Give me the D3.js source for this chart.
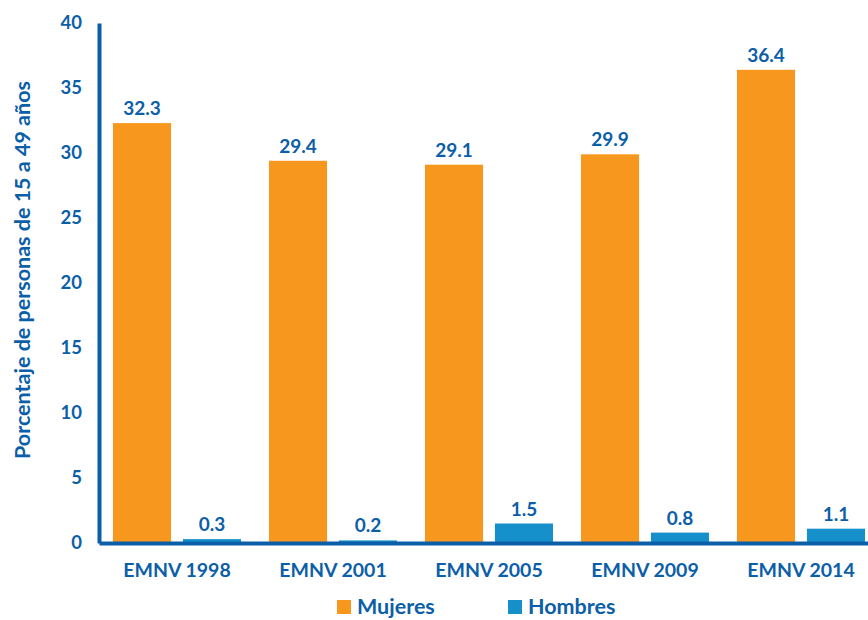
<!DOCTYPE html>
<html>
<head>
<meta charset="utf-8">
<script src="https://cdn.jsdelivr.net/npm/d3@7"></script>
<style>
  body { margin: 0; background: #fff; }
  svg { display: block; font-family: "Lato", "Open Sans", sans-serif; }
</style>
</head>
<body>
<div id="chart"></div>
<script>
const categories = ["EMNV 1998", "EMNV 2001", "EMNV 2005", "EMNV 2009", "EMNV 2014"];
const seriesNames = ["Mujeres", "Hombres"];
const mujeres = [32.3, 29.4, 29.1, 29.9, 36.4];
const hombres = [0.3, 0.2, 1.5, 0.8, 1.1];
const yTicks = [0, 5, 10, 15, 20, 25, 30, 35, 40];

const width = 868, height = 620;
const textColor = "#0B5EA8";
const colors = { Mujeres: "#F7971E", Hombres: "#1690CB" };

const data = categories.map((c, i) => ({ cat: c, Mujeres: mujeres[i], Hombres: hombres[i] }));

const svg = d3.select("#chart").append("svg")
    .attr("width", width).attr("height", height);

const xScale = d3.scaleBand().domain(categories).range([99, 879]);
const xSub = d3.scaleBand().domain(seriesNames)
    .range([0, xScale.bandwidth()])
    .paddingInner(0.17).paddingOuter(0.2);
const yScale = d3.scaleLinear().domain([0, 40]).range([543, 23]);

// bars
const groups = svg.selectAll("g.grp").data(data).join("g")
    .attr("class", "grp")
    .attr("transform", d => `translate(${xScale(d.cat)},0)`);

groups.selectAll("rect")
    .data(d => seriesNames.map(s => ({ s, v: d[s] })))
    .join("rect")
    .attr("x", d => xSub(d.s))
    .attr("y", d => yScale(d.v))
    .attr("width", xSub.bandwidth())
    .attr("height", d => yScale(0) - yScale(d.v))
    .attr("fill", d => colors[d.s]);

// value labels
groups.selectAll("text.val")
    .data(d => seriesNames.map(s => ({ s, v: d[s] })))
    .join("text")
    .attr("class", "val")
    .attr("x", d => xSub(d.s) + xSub.bandwidth() / 2)
    .attr("y", d => yScale(d.v) - 8)
    .attr("text-anchor", "middle")
    .attr("fill", textColor)
    .attr("font-size", 19)
    .attr("font-weight", 700)
    .text(d => d.v.toFixed(1));

// y axis
const leftAxis = d3.axisLeft(yScale).tickValues(yTicks).tickSize(0).tickPadding(17);
const gy = svg.append("g").attr("transform", "translate(99,0)").call(leftAxis);
gy.select(".domain").attr("stroke", textColor).attr("stroke-width", 4);
gy.selectAll("text").attr("fill", textColor).attr("font-size", 18.5).attr("font-weight", 700)
    .attr("font-family", "Lato, sans-serif");

// x axis
const bottomAxis = d3.axisBottom(xScale).tickSize(0).tickPadding(20);
const gx = svg.append("g").attr("transform", "translate(0,543)").call(bottomAxis);
gx.select(".domain").attr("stroke", textColor).attr("stroke-width", 4);
gx.selectAll("text").attr("fill", textColor).attr("font-size", 19.5).attr("font-weight", 700)
    .attr("font-family", "Lato, sans-serif");

// y axis title
svg.append("text")
    .attr("transform", "translate(30,270) rotate(-90)")
    .attr("text-anchor", "middle")
    .attr("fill", textColor)
    .attr("font-size", 21.5)
    .attr("font-weight", 700)
    .text("Porcentaje de personas de 15 a 49 años");

// legend
const legendX = [337, 508];
const legend = svg.selectAll("g.leg").data(seriesNames).join("g")
    .attr("class", "leg")
    .attr("transform", (d, i) => `translate(${legendX[i]},600)`);
legend.append("rect").attr("width", 14).attr("height", 14).attr("fill", d => colors[d]);
legend.append("text")
    .attr("x", 20).attr("y", 14)
    .attr("fill", textColor)
    .attr("font-size", 21.5)
    .attr("font-weight", 700)
    .text(d => d);
</script>
</body>
</html>
